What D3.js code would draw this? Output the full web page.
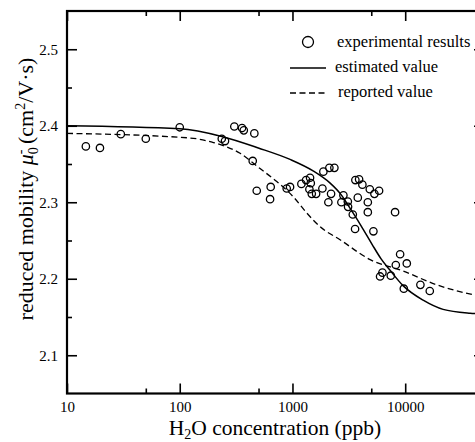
<!DOCTYPE html>
<html>
<head>
<meta charset="utf-8">
<script src="https://cdn.jsdelivr.net/npm/d3@7.9.0/dist/d3.min.js"></script>
<style>
  body { margin: 0; background: #fff; }
  svg { display: block; font-family: "Liberation Serif", "Times New Roman", serif; }
</style>
</head>
<body>
<svg id="chart" width="475" height="442"></svg>
<script>
// experimental results (H2O ppb, mobility)
const expX = [14.7, 19.6, 30, 50, 100, 236, 252, 305, 357, 370, 459, 444, 482, 641, 633, 889, 952,
  1200, 1321, 1432, 1453, 1413, 1483, 1620, 1843, 1880, 2125, 2354, 2200, 2082, 2830, 2716, 3097,
  3113, 3428, 3614, 3899, 4170, 3797, 4660, 4660, 4853, 5330, 5866, 3592, 5224, 8130, 9014, 8253,
  10330, 6280, 5986, 7450, 9720, 13640, 16520];
const expY = [2.373, 2.371, 2.389, 2.383, 2.398, 2.383, 2.380, 2.399, 2.397, 2.394, 2.390, 2.354,
  2.315, 2.320, 2.304, 2.318, 2.320, 2.324, 2.329, 2.332, 2.325, 2.317, 2.311, 2.311, 2.318, 2.340,
  2.345, 2.345, 2.311, 2.300, 2.309, 2.300, 2.301, 2.294, 2.284, 2.329, 2.330, 2.323, 2.306, 2.300,
  2.287, 2.317, 2.311, 2.315, 2.265, 2.262, 2.287, 2.232, 2.218, 2.220, 2.208, 2.203, 2.204, 2.187,
  2.192, 2.184];

// estimated value curve
const estX = [10, 100, 236, 498, 952, 1524, 2159, 2698, 3380, 4227, 5083, 6110, 7345, 9570, 14420, 21680, 37700, 50000];
const estY = [2.400, 2.396, 2.386, 2.371, 2.356, 2.341, 2.325, 2.310, 2.288, 2.265, 2.245, 2.226, 2.211, 2.191, 2.172, 2.160, 2.155, 2.154];

// reported value curve
const repX = [10, 123, 199, 343, 516, 726, 1019, 1339, 1758, 2643, 4888, 9640, 19060, 40270, 50000];
const repY = [2.390, 2.384, 2.378, 2.364, 2.344, 2.327, 2.307, 2.286, 2.268, 2.251, 2.225, 2.210, 2.192, 2.179, 2.176];

const xMajor = [10, 100, 1000, 10000];
const xMinor = [50, 500, 5000];
const yMajor = [2.1, 2.2, 2.3, 2.4, 2.5];
const yMinor = [2.15, 2.25, 2.35, 2.45];

const svg = d3.select('#chart');
const x0 = 67, x1 = 484, y0 = 11, y1 = 393.5;

const x = d3.scaleLog().domain([10, 50000]).range([x0, x1]);
const y = d3.scaleLinear().domain([2.05, 2.55]).range([y1, y0]);

svg.append('clipPath').attr('id', 'clip')
  .append('rect').attr('x', x0).attr('y', y0).attr('width', x1 - x0).attr('height', y1 - y0);

// axes, ticks pointing inward
function styleAxis(g) {
  g.select('.domain').remove();
  g.selectAll('.tick line').attr('stroke', '#000').attr('stroke-width', 1.6);
  g.selectAll('.tick text').attr('fill', '#000').attr('font-size', 15)
    .attr('font-family', '"Liberation Serif", "Times New Roman", serif');
}

svg.append('g').attr('transform', `translate(0,${y1})`)
  .call(d3.axisBottom(x).tickValues(xMajor).tickFormat(d3.format('d')).tickSize(-10).tickPadding(8))
  .call(styleAxis);
svg.append('g').attr('transform', `translate(0,${y1})`)
  .call(d3.axisBottom(x).tickValues(xMinor).tickFormat('').tickSize(-5))
  .call(styleAxis);
svg.append('g').attr('transform', `translate(0,${y0})`)
  .call(d3.axisTop(x).tickValues(xMajor).tickFormat('').tickSize(-10))
  .call(styleAxis);
svg.append('g').attr('transform', `translate(0,${y0})`)
  .call(d3.axisTop(x).tickValues(xMinor).tickFormat('').tickSize(-5))
  .call(styleAxis);

svg.append('g').attr('transform', `translate(${x0},0)`)
  .call(d3.axisLeft(y).tickValues(yMajor).tickFormat(d3.format('.1f')).tickSize(-10).tickPadding(9))
  .call(styleAxis);
svg.append('g').attr('transform', `translate(${x0},0)`)
  .call(d3.axisLeft(y).tickValues(yMinor).tickFormat('').tickSize(-5))
  .call(styleAxis);
svg.append('g').attr('transform', `translate(${x1},0)`)
  .call(d3.axisRight(y).tickValues(yMajor).tickFormat('').tickSize(-10))
  .call(styleAxis);
svg.append('g').attr('transform', `translate(${x1},0)`)
  .call(d3.axisRight(y).tickValues(yMinor).tickFormat('').tickSize(-5))
  .call(styleAxis);

// frame
svg.append('rect')
  .attr('x', x0).attr('y', y0).attr('width', x1 - x0).attr('height', y1 - y0)
  .attr('fill', 'none').attr('stroke', '#000').attr('stroke-width', 2.2);

// curves
const line = d3.line().x(d => x(d[0])).y(d => y(d[1])).curve(d3.curveMonotoneX);
const plot = svg.append('g').attr('clip-path', 'url(#clip)');

plot.append('path')
  .attr('d', line(d3.zip(estX, estY)))
  .attr('fill', 'none').attr('stroke', '#000').attr('stroke-width', 1.5);
plot.append('path')
  .attr('d', line(d3.zip(repX, repY)))
  .attr('fill', 'none').attr('stroke', '#000').attr('stroke-width', 1.3)
  .attr('stroke-dasharray', '6,3.5');

plot.selectAll('circle.pt')
  .data(d3.zip(expX, expY))
  .join('circle')
    .attr('class', 'pt')
    .attr('cx', d => x(d[0]))
    .attr('cy', d => y(d[1]))
    .attr('r', 3.7)
    .attr('fill', 'none').attr('stroke', '#000').attr('stroke-width', 1.3);

// legend
const legend = svg.append('g').attr('font-size', 16.5);
legend.append('circle').attr('cx', 308).attr('cy', 42).attr('r', 5.5)
  .attr('fill', 'none').attr('stroke', '#000').attr('stroke-width', 1.3);
legend.append('text').attr('x', 337).attr('y', 47).text('experimental results');
legend.append('line').attr('x1', 290).attr('x2', 326).attr('y1', 68).attr('y2', 68)
  .attr('stroke', '#000').attr('stroke-width', 1.5);
legend.append('text').attr('x', 335).attr('y', 72).text('estimated value');
legend.append('line').attr('x1', 290).attr('x2', 326).attr('y1', 93).attr('y2', 93)
  .attr('stroke', '#000').attr('stroke-width', 1.3).attr('stroke-dasharray', '6,3.5');
legend.append('text').attr('x', 338).attr('y', 97).text('reported value');

// axis titles
const xt = svg.append('text').attr('x', 275).attr('y', 435).attr('text-anchor', 'middle').attr('font-size', 21.5);
xt.append('tspan').text('H');
xt.append('tspan').attr('font-size', 14).attr('dy', 4).text('2');
xt.append('tspan').attr('dy', -4).text('O concentration (ppb)');

const yt = svg.append('text').attr('transform', 'translate(33,189) rotate(-90)')
  .attr('text-anchor', 'middle').attr('font-size', 22);
yt.append('tspan').text('reduced mobility ');
yt.append('tspan').attr('font-style', 'italic').text('μ');
yt.append('tspan').attr('font-size', 14).attr('dy', 5).text('0');
yt.append('tspan').attr('font-size', 14).attr('dx', -7).attr('dy', -13).text('-');
yt.append('tspan').attr('dy', 8).text(' (cm');
yt.append('tspan').attr('font-size', 14).attr('dy', -8).text('2');
yt.append('tspan').attr('dy', 8).text('/V·s)');
</script>
</body>
</html>
